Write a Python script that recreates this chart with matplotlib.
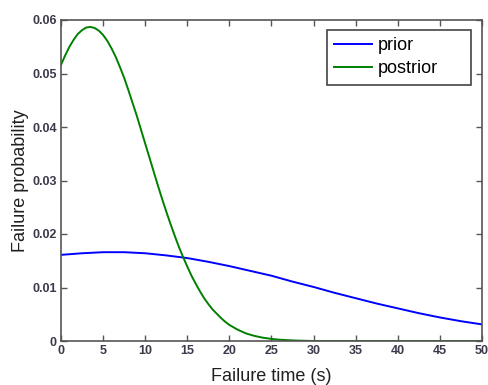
import matplotlib
matplotlib.use("Agg")
import matplotlib.pyplot as plt

# Data
prior_x = [0, 2.5, 5, 7.5, 10, 12.5, 15, 17.5, 20, 22.5, 25, 27.5, 30, 32.5,
           35, 37.5, 40, 42.5, 45, 47.5, 50]
prior_y = [0.0161, 0.0164, 0.0166, 0.0166, 0.0164, 0.0160, 0.0155, 0.0148,
           0.0140, 0.0131, 0.0122, 0.0111, 0.0101, 0.0090, 0.0080, 0.0070,
           0.0061, 0.0052, 0.0044, 0.0037, 0.0031]

post_x = [0, 0.5, 1, 1.5, 2, 2.5, 3, 3.5, 4, 4.5, 5, 5.5, 6, 6.5, 7, 7.5, 8,
          8.5, 9, 9.5, 10, 10.5, 11, 11.5, 12, 12.5, 13, 13.5, 14, 14.5, 15,
          15.5, 16, 16.5, 17, 17.5, 18, 18.5, 19, 19.5, 20, 21, 22, 23, 24,
          25, 26, 27, 28, 29, 30, 40, 50]
post_y = [0.0516, 0.0534, 0.0550, 0.0563, 0.0574, 0.0581, 0.0586, 0.0587,
          0.0585, 0.0580, 0.0572, 0.0561, 0.0547, 0.0531, 0.0512, 0.0492,
          0.0469, 0.0445, 0.0421, 0.0395, 0.0369, 0.0343, 0.0317, 0.0291,
          0.0266, 0.0242, 0.0219, 0.0197, 0.0176, 0.0157, 0.0139, 0.0122,
          0.0107, 0.0093, 0.0080, 0.0069, 0.0059, 0.0051, 0.0043, 0.0036,
          0.0030, 0.0021, 0.0014, 0.00094, 0.00061, 0.00039, 0.00024,
          0.00015, 0.00008, 0.00004, 0.0, 0.0, 0.0]

x_ticks = [0, 5, 10, 15, 20, 25, 30, 35, 40, 45, 50]
y_ticks = [0, 0.01, 0.02, 0.03, 0.04, 0.05, 0.06]
y_ticklabels = ["0", "0.01", "0.02", "0.03", "0.04", "0.05", "0.06"]

plt.rcParams['font.family'] = ['Liberation Sans', 'DejaVu Sans']

fig = plt.figure(figsize=(4.89, 3.85), dpi=100)
ax = fig.add_axes([61/489, 44/385, 421/489, 321/385])

ax.plot(prior_x, prior_y, color="#0000ff", lw=1.4, label="prior")
ax.plot(post_x, post_y, color="#008000", lw=1.4, label="postrior")

ax.set_xlim(0, 50)
ax.set_ylim(0, 0.06)
ax.set_xticks(x_ticks)
ax.set_xticklabels([str(t) for t in x_ticks])
ax.set_yticks(y_ticks)
ax.set_yticklabels(y_ticklabels)

ax.tick_params(direction="in", length=4, width=1, top=True, right=True,
               colors="#555555", labelcolor="#3a3a4a", labelsize=9, pad=3)
for lab in ax.get_xticklabels() + ax.get_yticklabels():
    lab.set_fontweight("bold")
for sp in ax.spines.values():
    sp.set_color("#555555")
    sp.set_linewidth(1.2)

ax.set_xlabel("Failure time (s)", fontsize=13, color="#202020", labelpad=8)
ax.set_ylabel("Failure probability", fontsize=13, color="#202020", labelpad=2)

leg = ax.legend(loc="upper left", fontsize=13, handlelength=2.1,
                fancybox=False, framealpha=1, edgecolor="#444444",
                borderpad=0.4, labelspacing=0.35, handletextpad=0.3,
                borderaxespad=0, mode="expand",
                bbox_to_anchor=(0.632, 0.7975, 0.342, 0.1715))
leg.get_frame().set_linewidth(1.2)

fig.savefig("out.png", dpi=100)
